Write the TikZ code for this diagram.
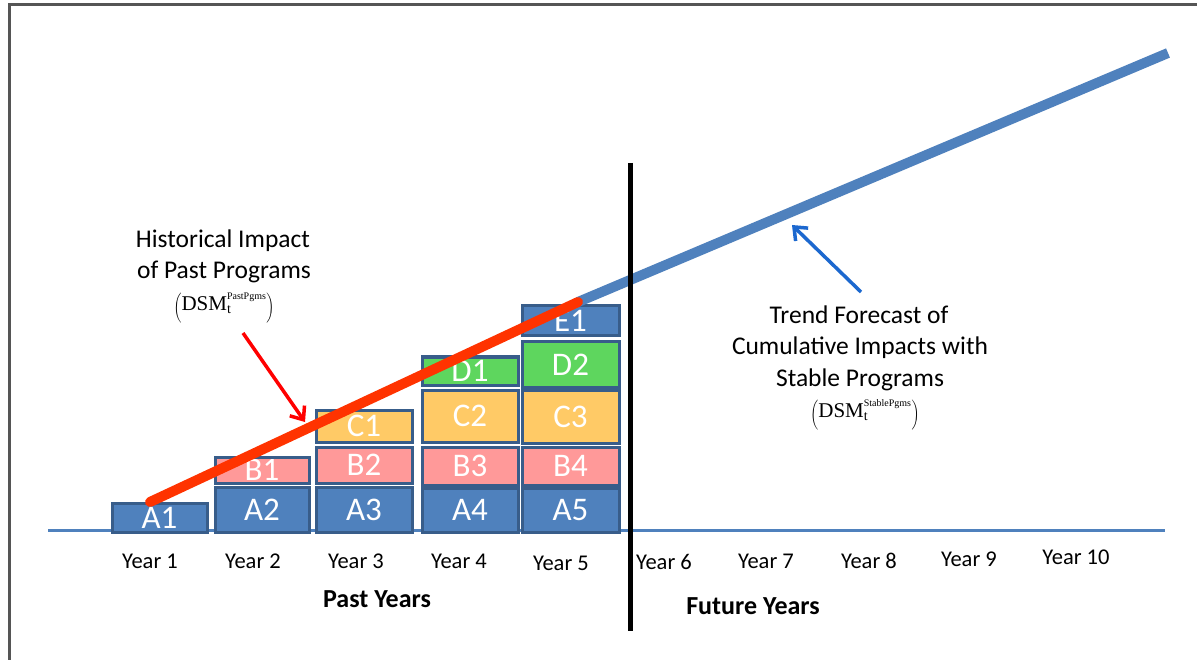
\documentclass[tikz,border=0pt]{standalone}
\usepackage{fontspec}
\setmainfont{Carlito}
\newfontfamily\tnr{Liberation Serif}
\usetikzlibrary{arrows.meta}
\definecolor{cA}{HTML}{4F81BD}
\definecolor{cBorder}{HTML}{385D8A}
\definecolor{cB}{HTML}{FF9999}
\definecolor{cC}{HTML}{FFCA66}
\definecolor{cD}{HTML}{5ED65E}
\definecolor{cRed}{HTML}{FF3300}
\definecolor{cArrowBlue}{HTML}{1C68CF}
\definecolor{cFrame}{HTML}{555555}
\newcommand\fs[1]{\fontsize{#1}{#1}\selectfont}
\newcommand\dsmlabel[1]{$\left(\rule[-9pt]{0pt}{25pt}\mbox{\tnr\fs{21}DSM}^{\mbox{\tnr\fs{10}#1}}_{\mbox{\tnr\fs{14}t}}\right)$}
\newcommand\blk[6]{%
  \node[boxfill, fill=#6, minimum width={(#4-#2)*1pt}, minimum height={(#5-#3)*1pt}] (#1) at ({(#2+#4)/2},{(#3+#5)/2}) {#1};
  \draw[boxline] (#1.south west) rectangle (#1.north east);
}
\tikzset{
  boxfill/.style={inner sep=0pt, outer sep=0pt, text=white, font=\fs{33}},
  boxline/.style={draw=cBorder, line width=3pt},
  yearlbl/.style={font=\fs{22.5}, text=black, inner sep=0pt},
  heading/.style={font=\bfseries\fs{26}, inner sep=0pt},
  note/.style={font=\fs{25.5}, align=center, inner sep=0pt},
  annarrow/.style={line width=3.5pt, -{Straight Barb[length=11pt,width=18pt,line width=3.5pt]}},
}
\begin{document}
\begin{tikzpicture}[x=1pt,y=-1pt]
\useasboundingbox (0,0) rectangle (1197,660);
\fill[white] (0,0) rectangle (1197,660);
% frame
\draw[cFrame, line width=3pt] (9,660) -- (9,5) -- (1197,5);
% axis
\coordinate (ax0) at (48,530);
\coordinate (ax1) at (1165,530);
\draw[cA, line width=3pt] (ax0) -- (ax1);
% blocks
\blk{A1}{112}{503}{207}{532}{cA}
\blk{A2}{215}{487}{309}{532}{cA}
\blk{B1}{215}{457}{309}{483}{cB}
\blk{A3}{316}{487}{412}{532}{cA}
\blk{B2}{316}{447}{412}{483}{cB}
\blk{C1}{316}{410}{412}{442}{cC}
\blk{A4}{422}{488}{518}{532}{cA}
\blk{B3}{422}{447}{518}{485}{cB}
\blk{C2}{422}{390}{518}{442}{cC}
\blk{D1}{422}{357}{518}{385}{cD}
\blk{A5}{522}{488}{619}{532}{cA}
\blk{B4}{522}{447}{619}{485}{cB}
\blk{C3}{522}{390}{619}{443}{cC}
\blk{D2}{522}{342}{619}{387}{cD}
\blk{E1}{522}{306}{619}{336}{cA}
% trend lines
\coordinate (r0) at (150,502);
\coordinate (r1) at (578,302);
\coordinate (b1) at (1168,53);
\draw[cA, line width=10pt] (r1) -- (b1);
\draw[cRed, line width=10pt, line cap=round] (r0) -- (r1);
% divider
\coordinate (v0) at (630,163);
\coordinate (v1) at (630,631);
\draw[black, line width=5pt] (v0) -- (v1);
% year labels
\node[yearlbl] (y1) at (150,561) {Year 1};
\node[yearlbl] (y2) at (253,561) {Year 2};
\node[yearlbl] (y3) at (356,561) {Year 3};
\node[yearlbl] (y4) at (459,561) {Year 4};
\node[yearlbl] (y5) at (561,563) {Year 5};
\node[yearlbl] (y6) at (664,562) {Year 6};
\node[yearlbl] (y7) at (766,561) {Year 7};
\node[yearlbl] (y8) at (869,561) {Year 8};
\node[yearlbl] (y9) at (969,559) {Year 9};
\node[yearlbl] (y10) at (1076,557) {Year 10};
\node[heading] (past) at (377,599) {Past Years};
\node[heading] (future) at (753,606) {Future Years};
% notes
\node[note] (hist1) at (223,241) {Historical Impact};
\node[note] (hist2) at (224,272) {of Past Programs};
\node[inner sep=0pt] (histdsm) at (224,308) {\dsmlabel{PastPgms}};
\node[note] (tr1) at (859,315) {Trend Forecast of};
\node[note] (tr2) at (860,348) {Cumulative Impacts with};
\node[note] (tr3) at (860,380) {Stable Programs};
\node[inner sep=0pt] (trdsm) at (865,415) {\dsmlabel{StablePgms}};
% annotation arrows
\coordinate (ra0) at (243,333);
\coordinate (ra1) at (305,422);
\draw[annarrow, red] (ra0) -- (ra1);
\coordinate (ba0) at (861,292);
\coordinate (ba1) at (792,225);
\draw[annarrow, cArrowBlue] (ba0) -- (ba1);
\end{tikzpicture}
\end{document}
